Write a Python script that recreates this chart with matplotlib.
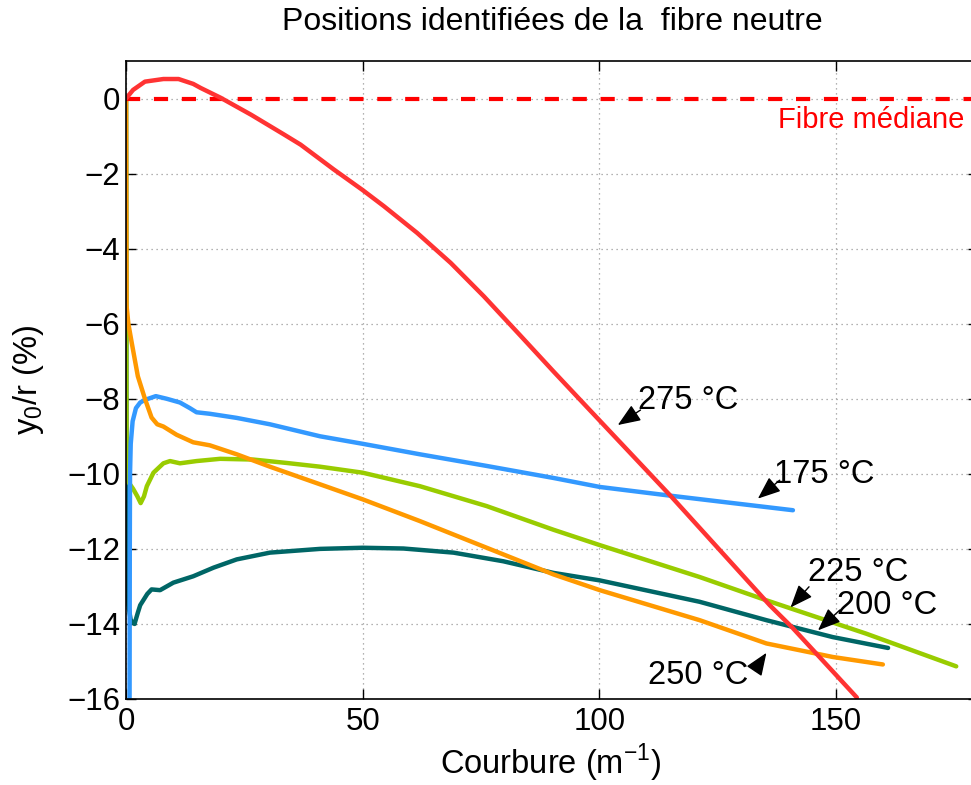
"""
Positions identifiees de la fibre neutre : y0/r en fonction de la courbure,
une courbe par temperature d'essai.
"""

import matplotlib
matplotlib.use("Agg")
import matplotlib.pyplot as plt


FONT = "Liberation Sans"
plt.rcParams["font.family"] = [FONT, "DejaVu Sans"]
plt.rcParams["mathtext.fontset"] = "custom"
plt.rcParams["mathtext.rm"] = FONT

# 275 C
x_275 = [0, 1.5, 4.0, 7.9, 11.1, 14.2, 15.8, 20.0, 26.4, 33.4, 36.9, 43.9, 50,
         54.5, 61.5, 68.6, 75.6, 83.2, 90.3, 97.3, 115.3, 136, 140.8, 154.4]
y_275 = [0, 0.23, 0.45, 0.52, 0.52, 0.39, 0.28, 0.02, -0.43, -0.96, -1.23,
         -1.89, -2.44, -2.87, -3.58, -4.38, -5.27, -6.30, -7.27, -8.21, -10.62,
         -13.5, -14.1, -15.96]

# 175 C
x_175 = [0.75, 0.8, 0.85, 1.0, 1.4, 2.1, 3.0, 4.0, 6.3, 8.6, 11.4, 13.5, 14.9,
         17.7, 23.4, 30.4, 41, 50, 62.1, 76.2, 90.3, 100.1, 114.2, 128.2, 140.9]
y_175 = [-16.5, -12, -10, -9.2, -8.6, -8.25, -8.1, -8.03, -7.93, -8.0, -8.1,
         -8.25, -8.36, -8.4, -8.51, -8.68, -9.0, -9.2, -9.48, -9.79, -10.11,
         -10.35, -10.57, -10.78, -10.97]

# 250 C
x_250 = [0, 0.05, 0.1, 0.5, 1.2, 2.5, 4.0, 5.4, 6.6, 7.9, 10.7, 14.2, 17.7,
         23.4, 30.4, 41, 50, 62.1, 76.2, 90.3, 100.1, 121.2, 135.3, 149.3, 159.9]
y_250 = [0, -3, -5.5, -6.0, -6.5, -7.4, -8.0, -8.5, -8.68, -8.74, -8.96, -9.16,
         -9.24, -9.48, -9.81, -10.28, -10.68, -11.26, -11.97, -12.68, -13.1,
         -13.9, -14.52, -14.88, -15.08]

# 225 C
x_225 = [0, 0.05, 0.1, 0.4, 1.5, 2.4, 3.1, 3.8, 4.4, 5.8, 7.9, 9.3, 11.4, 14.9,
         19.9, 26.9, 33.9, 41, 50, 62.1, 76.2, 90.3, 100.1, 121.2, 135.3,
         156.4, 175.4]
y_225 = [0, -5, -9.9, -10.2, -10.4, -10.6, -10.78, -10.6, -10.33, -9.97, -9.72,
         -9.66, -9.72, -9.66, -9.6, -9.62, -9.71, -9.81, -9.97, -10.33, -10.86,
         -11.49, -11.9, -12.75, -13.37, -14.26, -15.13]

# 200 C
x_200 = [0, 0.1, 0.2, 0.5, 1.0, 1.8, 2.5, 3.0, 4.5, 5.4, 7.2, 10, 14.2, 18.5,
         23.4, 30.4, 41, 50, 58.6, 69.2, 79.7, 90.3, 100.1, 121.2, 135.3,
         149.3, 161]
y_200 = [0, -9.9, -12.5, -13.5, -13.9, -14.0, -13.7, -13.5, -13.2, -13.08,
         -13.1, -12.9, -12.73, -12.5, -12.28, -12.1, -12.0, -11.97, -11.99,
         -12.1, -12.33, -12.64, -12.84, -13.41, -13.9, -14.35, -14.64]

x_ticks = [0, 50, 100, 150]
y_ticks = list(range(-16, 1, 2))

fig = plt.figure(figsize=(9.71, 7.85), dpi=100)
ax = fig.add_axes([126 / 971, 1 - 699 / 785, 852 / 971, 638 / 785])

lw = 3.2
ax.plot(x_200, y_200, color="#006666", lw=lw, solid_capstyle="round")
ax.plot(x_225, y_225, color="#99cc00", lw=lw, solid_capstyle="round")
ax.plot(x_175, y_175, color="#3399ff", lw=lw, solid_capstyle="round")
ax.plot(x_250, y_250, color="#ff9900", lw=lw, solid_capstyle="round")
ax.axhline(0, color="#ff0000", lw=3, dashes=(3.4, 3.3))
ax.plot(x_275, y_275, color="#ff3333", lw=lw, solid_capstyle="round")

ax.text(177.2, -0.57, "Fibre médiane", color="#ff0000", fontsize=21,
        ha="right", va="center")

# (text position, arrow tip, arrow base) for each temperature label
labels = [
    ("275 °C", (108.1, -8.04), (103.9, -8.70), (108.7, -8.30)),
    ("175 °C", (137.0, -10.02), (133.5, -10.66), (138.1, -10.17)),
    ("225 °C", (144.0, -12.62), (140.4, -13.56), (144.3, -13.01)),
    ("200 °C", (150.3, -13.50), (146.2, -14.17), (150.8, -13.63)),
    ("250 °C", (110.2, -15.38), (135.3, -14.77), (132.8, -15.24)),
]
for txt, pos, tip, base in labels:
    ax.text(pos[0], pos[1], txt, fontsize=23.5, ha="left", va="center")
    ax.annotate("", xy=tip, xytext=base,
                arrowprops=dict(arrowstyle="-|>,head_length=1.0,head_width=0.4",
                                color="k", lw=1, shrinkA=0, shrinkB=0,
                                mutation_scale=14))

ax.set_xlim(0, 180)
ax.set_ylim(-16, 1)
ax.set_xticks(x_ticks)
ax.set_yticks(y_ticks)
ax.grid(True, color="#999999", linestyle=(0, (1, 3)), lw=0.9)
ax.set_axisbelow(True)
ax.tick_params(direction="in", top=True, right=True, length=7, width=1,
               labelsize=22.5)
ax.tick_params(axis="y", pad=4)
ax.tick_params(axis="x", pad=6)
for s in ax.spines.values():
    s.set_linewidth(1.2)

ax.set_xlabel("Courbure (m$^{-1}$)", fontsize=23.5, va="center")
ax.xaxis.set_label_coords(0.498, -0.1)
ax.set_ylabel("y$_0$/r (%)", fontsize=23.5, va="center")
ax.yaxis.set_label_coords(-0.114, 0.5)
ax.set_title("Positions identifiées de la  fibre neutre", fontsize=23,
             y=1.061, va="center", pad=0)

fig.savefig("out.png", dpi=100)
